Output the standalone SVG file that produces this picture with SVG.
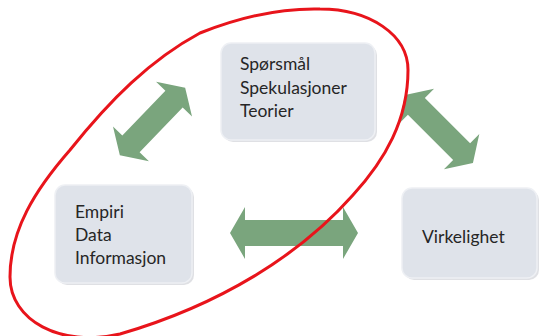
<svg xmlns="http://www.w3.org/2000/svg" width="539" height="336" viewBox="0 0 539 336">
<defs>
<style>
.box{fill:#dfe3ea;stroke:#eef0f4;stroke-width:1.5}
.shadow{fill:#c9ccd2;opacity:0.6}
.lbl{font-family:Lato,"Open Sans",sans-serif;font-size:17.5px;fill:#262626}
.arrow{fill:#7aa57d}
.loop{fill:none;stroke:#e8141b;stroke-width:3}
</style>
</defs>
<rect width="539" height="336" fill="#ffffff"/>
<g id="connectors">
<path class="arrow" transform="translate(152.5,121.5) rotate(-46)" d="M -47,0 L -31,-25 L -31,-12 L 31,-12 L 31,-25 L 47,0 L 31,25 L 31,12 L -31,12 L -31,25 Z"/>
<path class="arrow" transform="translate(439,129) rotate(45)" d="M -48,0 L -32,-25 L -32,-12 L 32,-12 L 32,-25 L 48,0 L 32,25 L 32,12 L -32,12 L -32,25 Z"/>
<path class="arrow" transform="translate(294,233)" d="M -64,0 L -49,-26 L -49,-13 L 49,-13 L 49,-26 L 64,0 L 49,26 L 49,13 L -49,13 L -49,26 Z"/>
</g>
<g id="node-teori">
<rect class="shadow" x="223" y="45" width="154" height="97" rx="10"/>
<rect class="box" x="221" y="43" width="154" height="97" rx="10"/>
<text class="lbl" x="240" y="70">Spørsmål</text>
<text class="lbl" x="240" y="94">Spekulasjoner</text>
<text class="lbl" x="240" y="117">Teorier</text>
</g>
<g id="node-empiri">
<rect class="shadow" x="57" y="187" width="137" height="98" rx="10"/>
<rect class="box" x="55" y="185" width="137" height="98" rx="10"/>
<text class="lbl" x="75" y="218">Empiri</text>
<text class="lbl" x="75" y="241">Data</text>
<text class="lbl" x="75" y="264">Informasjon</text>
</g>
<g id="node-virkelighet">
<rect class="shadow" x="404" y="190" width="135" height="90" rx="10"/>
<rect class="box" x="402" y="188" width="135" height="90" rx="10"/>
<text class="lbl" x="422" y="243">Virkelighet</text>
</g>
<path class="loop" d="M 320,9 C 370,9 408,35 408,70 C 408,120 385,160 353,195 C 300,255 220,305 120,334 C 60,348 10,320 10,277 C 10,230 35,190 70,150 C 110,100 150,60 200,33 C 240,17 280,8 320,9 Z"/>
</svg>
